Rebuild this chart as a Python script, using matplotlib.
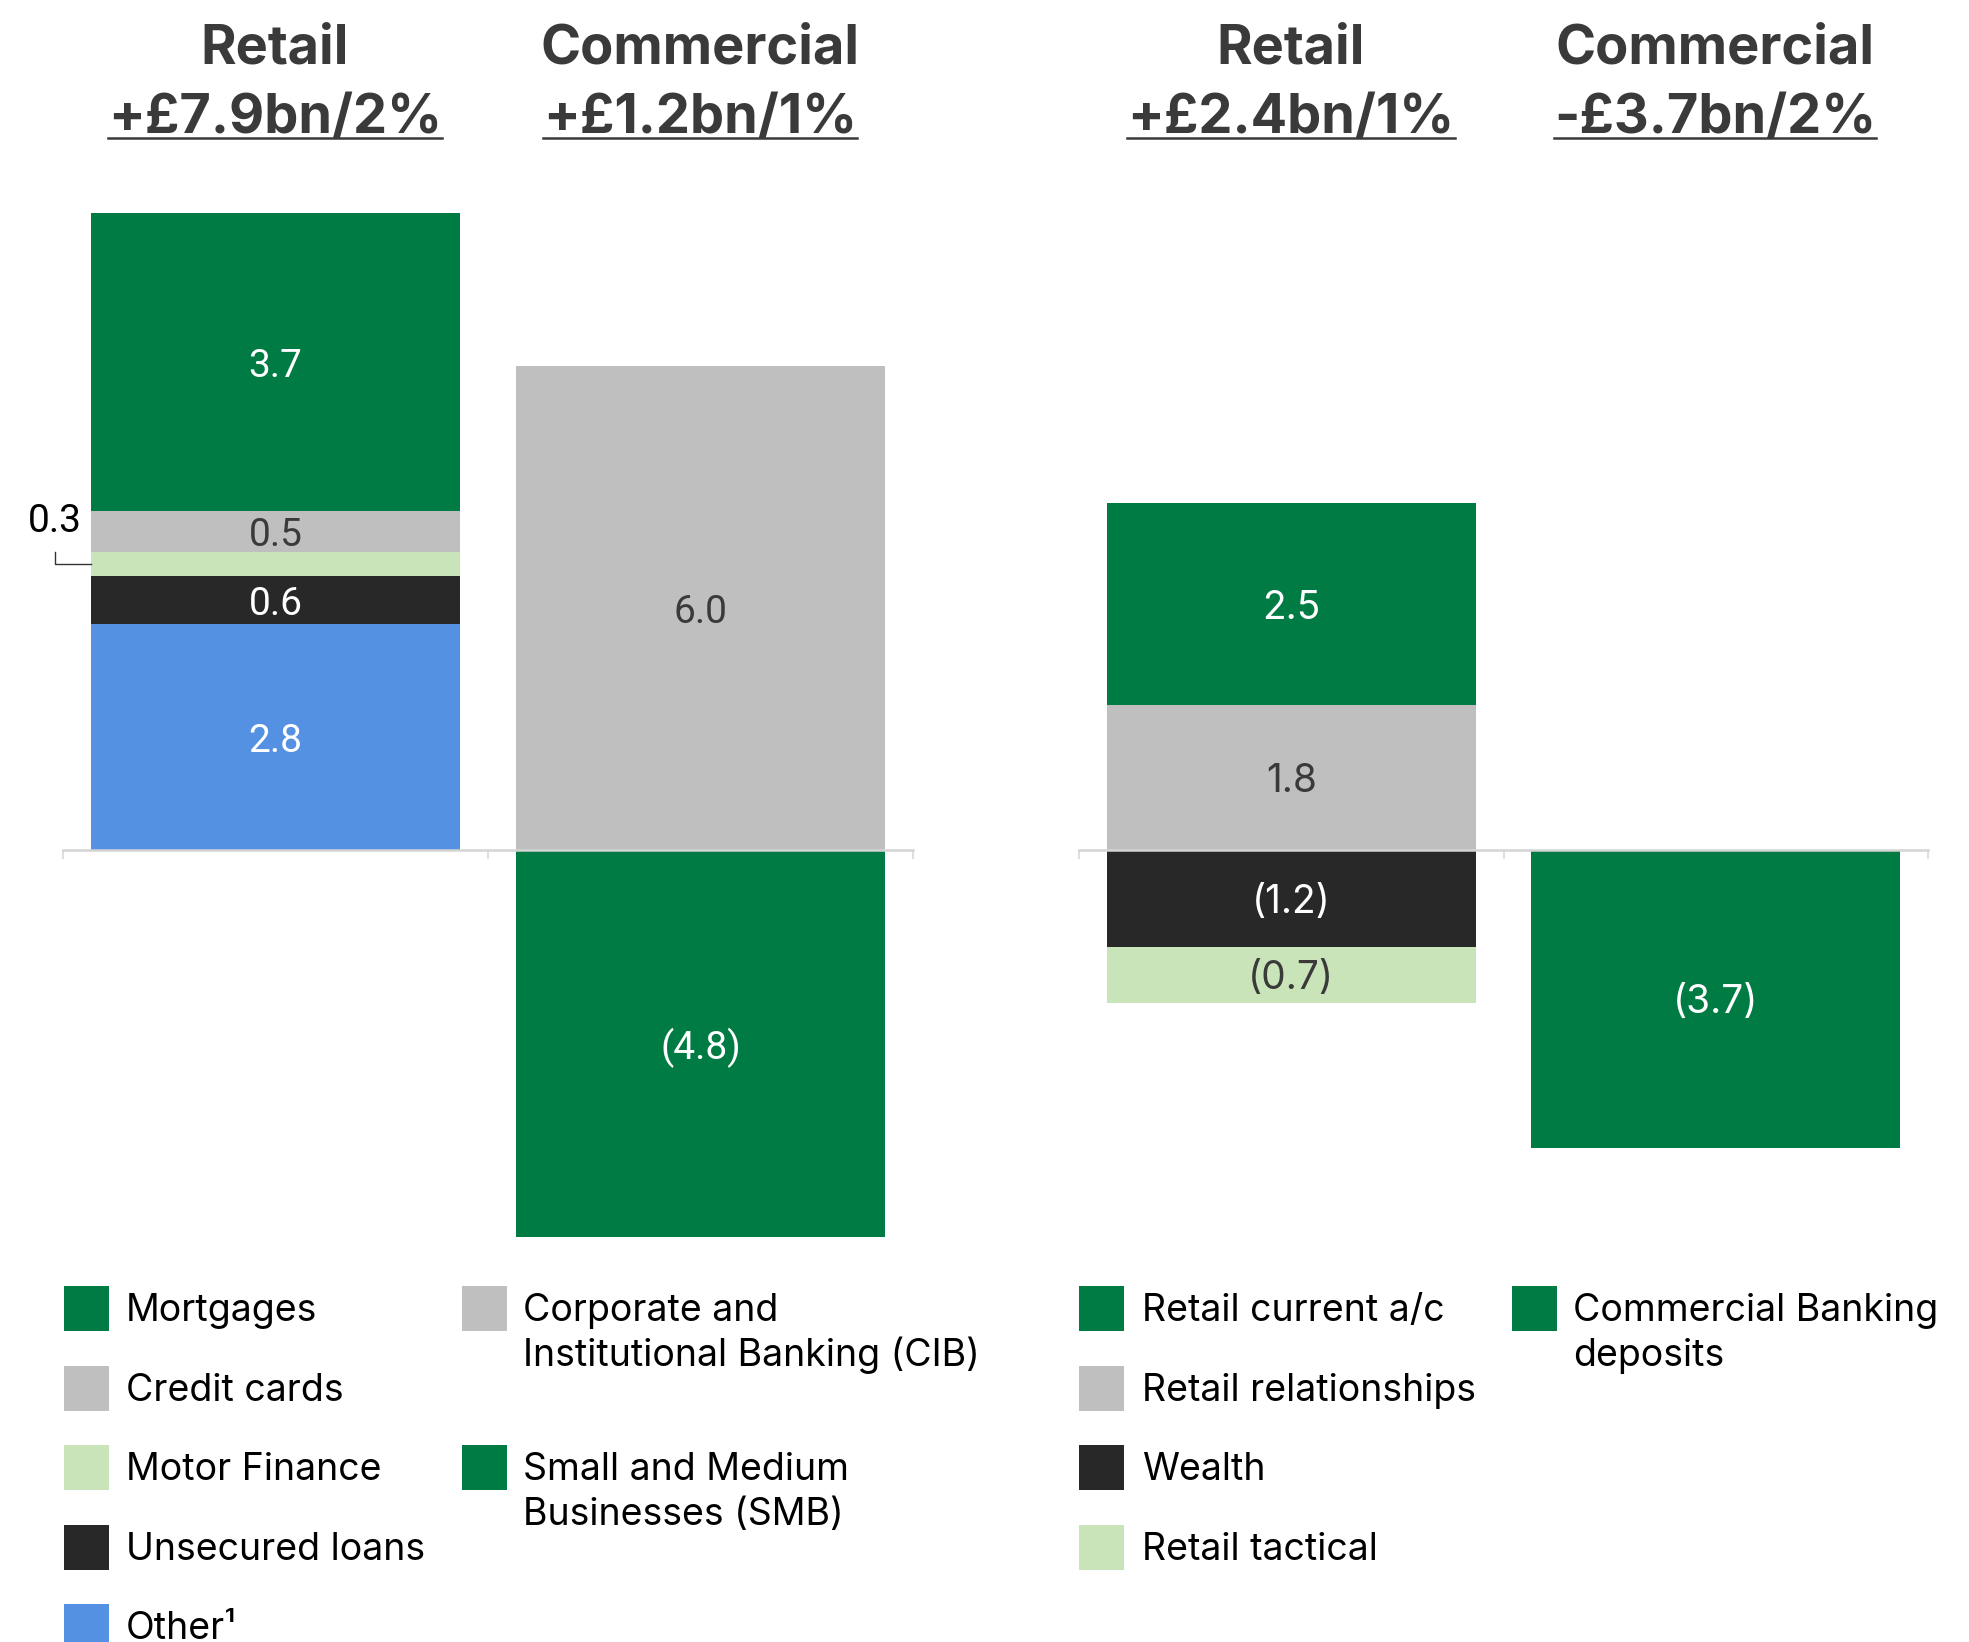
import matplotlib.pyplot as plt
from matplotlib.lines import Line2D
from matplotlib.patches import Rectangle

W, H = 1969, 1642

GREEN = "#007B43"
GREY = "#BFBFBF"
LIGHT_GREEN = "#C9E4B9"
DARK = "#282828"
BLUE = "#5591E3"
HEAD = "#3A3A3A"
AXIS = "#D4D4D4"

# loan movements (£bn)
loan_headers = ["Retail", "Commercial"]
loan_totals = ["+£7.9bn/2%", "+£1.2bn/1%"]
retail_loan_names = ["Other¹", "Unsecured loans", "Motor Finance", "Credit cards", "Mortgages"]
retail_loan_values = [2.8, 0.6, 0.3, 0.5, 3.7]
commercial_loan_names = ["Corporate and\nInstitutional Banking (CIB)", "Small and Medium\nBusinesses (SMB)"]
commercial_loan_values = [6.0, -4.8]

# deposit movements (£bn)
deposit_headers = ["Retail", "Commercial"]
deposit_totals = ["+£2.4bn/1%", "-£3.7bn/2%"]
retail_deposit_names = ["Retail relationships", "Retail current a/c", "Wealth", "Retail tactical"]
retail_deposit_values = [1.8, 2.5, -1.2, -0.7]
commercial_deposit_names = ["Commercial Banking\ndeposits"]
commercial_deposit_values = [-3.7]

colours = {
    "Mortgages": GREEN, "Credit cards": GREY, "Motor Finance": LIGHT_GREEN,
    "Unsecured loans": DARK, "Other¹": BLUE,
    "Corporate and\nInstitutional Banking (CIB)": GREY,
    "Small and Medium\nBusinesses (SMB)": GREEN,
    "Retail current a/c": GREEN, "Retail relationships": GREY,
    "Wealth": DARK, "Retail tactical": LIGHT_GREEN,
    "Commercial Banking\ndeposits": GREEN,
}
light_fills = {GREY, LIGHT_GREEN}


def fx(x):
    return x / W


def fy(y):
    return 1 - y / H


def fmt(v):
    return f"{v:.1f}" if v >= 0 else f"({abs(v):.1f})"


def stack(ax, x, names, values, family):
    pos, neg = 0.0, 0.0
    for name, v in zip(names, values):
        base = pos if v >= 0 else neg
        c = colours[name]
        ax.bar(x, v, bottom=base, width=0.87, color=c, linewidth=0, zorder=2)
        mid = base + v / 2
        if abs(v) < 0.4:
            # small slice gets a callout on the left of the bar
            ax.plot([x - 0.435, x - 0.52, x - 0.52], [mid, mid, mid + 0.15],
                    color="#333333", lw=1.0, clip_on=False, zorder=3)
            ax.text(x - 0.52, mid + 0.53, fmt(v), ha="center", va="center",
                    fontsize=28, family="Roboto", color="black")
        else:
            tc = HEAD if c in light_fills else "white"
            ax.text(x, mid, fmt(v), ha="center", va="center_baseline",
                    fontsize=28, family=family, color=tc, zorder=4)
        if v >= 0:
            pos += v
        else:
            neg += v


def style_axis(ax):
    ax.set_xlim(-0.5, 1.5)
    ax.set_ylim(-5.2, 8.7)
    for s in ["top", "left", "right"]:
        ax.spines[s].set_visible(False)
    ax.spines["bottom"].set_position(("data", 0))
    ax.spines["bottom"].set_color(AXIS)
    ax.spines["bottom"].set_linewidth(1.8)
    ax.spines["bottom"].set_zorder(5)
    ax.set_yticks([])
    ax.set_xticks([-0.5, 0.5, 1.5])
    ax.set_xticklabels([])
    ax.tick_params(axis="x", direction="out", length=6.5, width=1.1, color=AXIS)
    ax.patch.set_alpha(0)


fig = plt.figure(figsize=(W / 100, H / 100), dpi=100)
ax_l = fig.add_axes([fx(63), 0.2272, 850 / W, 0.6822])
ax_r = fig.add_axes([fx(1079), 0.2272, 849 / W, 0.6822])

stack(ax_l, 0, retail_loan_names, retail_loan_values, "Roboto")
stack(ax_l, 1, commercial_loan_names, commercial_loan_values, "Roboto")
stack(ax_r, 0, retail_deposit_names, retail_deposit_values, "Inter")
stack(ax_r, 1, commercial_deposit_names, commercial_deposit_values, "Inter")
style_axis(ax_l)
style_axis(ax_r)

# column headers
totals = []
for centres, heads, tots in [([275, 700], loan_headers, loan_totals),
                             ([1291, 1715], deposit_headers, deposit_totals)]:
    for cx, h, t in zip(centres, heads, tots):
        fig.text(fx(cx), fy(63), h, ha="center", va="baseline", fontsize=39,
                 family="Inter", weight="bold", color=HEAD)
        totals.append(fig.text(fx(cx), fy(133), t, ha="center", va="baseline",
                               fontsize=39, family="Inter", weight="bold", color=HEAD))

fig.canvas.draw()
renderer = fig.canvas.get_renderer()
for t in totals:
    bb = t.get_window_extent(renderer)
    fig.add_artist(Line2D([fx(bb.x0), fx(bb.x1)], [fy(138), fy(138)],
                          transform=fig.transFigure, color=HEAD, lw=1.8))

# legends
rows = [1308, 1388, 1467, 1547, 1626]


def legend_entry(sq_x, txt_x, row, name):
    y = rows[row]
    fig.add_artist(Rectangle((fx(sq_x), fy(y + 22.5)), 45 / W, 45 / H,
                             transform=fig.transFigure, color=colours[name], lw=0))
    for i, line in enumerate(name.split("\n")):
        fig.text(fx(txt_x), fy(y + 45 * i + 13), line, ha="left", va="baseline",
                 fontsize=27, family="Inter", color="black")


for i, n in enumerate(reversed(retail_loan_names)):
    legend_entry(64, 126, i, n)
legend_entry(462, 523, 0, commercial_loan_names[0])
legend_entry(462, 523, 2, commercial_loan_names[1])
for i, n in enumerate(["Retail current a/c", "Retail relationships", "Wealth", "Retail tactical"]):
    legend_entry(1079, 1142, i, n)
legend_entry(1512, 1573, 0, commercial_deposit_names[0])

fig.savefig("out.png", dpi=100)
